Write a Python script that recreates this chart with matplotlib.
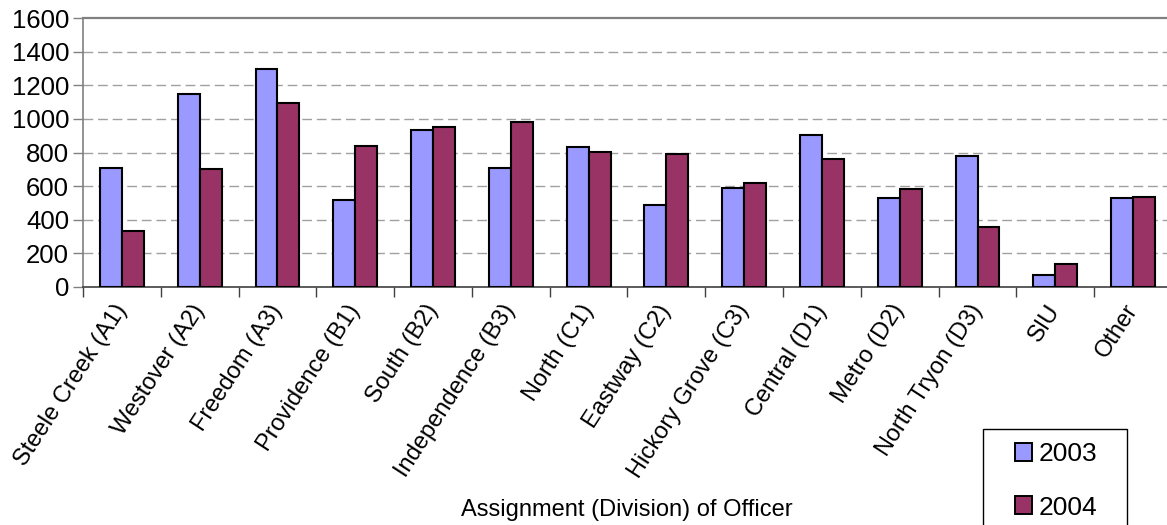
import matplotlib
matplotlib.use("Agg")
import matplotlib.pyplot as plt
import numpy as np
from matplotlib.patches import Patch, Rectangle

categories = ["Steele Creek (A1)", "Westover (A2)", "Freedom (A3)", "Providence (B1)",
              "South (B2)", "Independence (B3)", "North (C1)", "Eastway (C2)",
              "Hickory Grove (C3)", "Central (D1)", "Metro (D2)", "North Tryon (D3)",
              "SIU", "Other"]
values_2003 = [710, 1150, 1295, 520, 936, 708, 833, 488, 589, 904, 529, 779, 70, 531]
values_2004 = [335, 700, 1095, 840, 950, 980, 803, 789, 619, 761, 583, 355, 135, 537]
series_labels = ["2003", "2004"]
y_ticks = [0, 200, 400, 600, 800, 1000, 1200, 1400, 1600]
x_label = "Assignment (Division) of Officer"

color_2003 = "#9999FF"
color_2004 = "#993366"

plt.rcParams['font.family'] = ['Liberation Sans', 'DejaVu Sans']

W, H = 1167, 525
fig = plt.figure(figsize=(W / 100, H / 100), dpi=100)
ax = fig.add_axes([83 / W, 1 - 287 / H, (1172 - 83) / W, (287 - 18) / H])

x = np.arange(len(categories))
bw = 0.282
ax.bar(x - bw / 2, values_2003, width=bw, color=color_2003, edgecolor="black",
       linewidth=1.5, zorder=3, label=series_labels[0])
ax.bar(x + bw / 2, values_2004, width=bw, color=color_2004, edgecolor="black",
       linewidth=1.5, zorder=3, label=series_labels[1])

ax.set_xlim(-0.5, len(categories) - 0.5)
ax.set_ylim(0, 1600)
ax.set_yticks(y_ticks)
ax.set_yticklabels([str(v) for v in y_ticks], fontsize=18.5)
for yv in y_ticks[1:-1]:
    ax.axhline(yv, color="#a0a0a0", linewidth=1.0, linestyle=(0, (7, 3.5)), zorder=1)

# category labels
ax.set_xticks(x)
ax.set_xticklabels(categories, rotation=57, ha="right", va="center",
                   rotation_mode="anchor", fontsize=17)
ax.tick_params(axis="x", length=0, pad=14)
# boundary ticks
ax.set_xticks(np.arange(-0.5, len(categories), 1.0), minor=True)
ax.tick_params(axis="x", which="minor", length=7, width=1.0, color="#404040", direction="out")
ax.tick_params(axis="y", length=7, width=1.0, color="#808080", direction="out", pad=3)

for s in ["top", "left", "right"]:
    ax.spines[s].set_color("#808080")
    ax.spines[s].set_linewidth(1.6)
ax.spines["left"].set_linewidth(1.2)
ax.spines["bottom"].set_color("#404040")
ax.spines["bottom"].set_linewidth(1.2)

fig.text(627 / W, 1 - 510 / H, x_label, ha="center", va="center", fontsize=17)

# legend frame (extends past bottom edge as in the reference)
fig.patches.append(Rectangle((983 / W, 1 - 535 / H), 144 / W, 106 / H,
                             transform=fig.transFigure, fill=False,
                             edgecolor="black", linewidth=1.0))
handles = [Patch(facecolor=color_2003, edgecolor="black", linewidth=1.4),
           Patch(facecolor=color_2004, edgecolor="black", linewidth=1.4)]
leg = fig.legend(handles, series_labels, loc="upper left",
                 bbox_to_anchor=(1015 / W, 1 - 442 / H), fontsize=19,
                 frameon=False,
                 handlelength=0.65, handleheight=0.65, handletextpad=0.23,
                 labelspacing=1.12, borderpad=0, borderaxespad=0)

fig.savefig("out.png", dpi=100)
